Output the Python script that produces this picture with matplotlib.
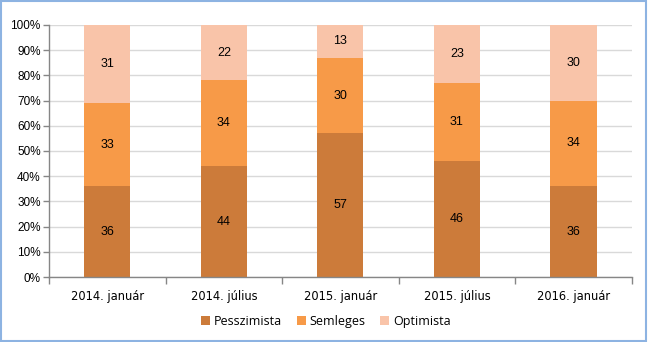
import numpy as np
import matplotlib
matplotlib.use("Agg")
import matplotlib.pyplot as plt
from matplotlib.patches import Rectangle

categories = ["2014. január", "2014. július", "2015. január", "2015. július", "2016. január"]
pesszimista = [36, 44, 57, 46, 36]
semleges = [33, 34, 30, 31, 34]
optimista = [31, 22, 13, 23, 30]

series = [("Pesszimista", pesszimista, "#CC7B3A"),
          ("Semleges", semleges, "#F79A48"),
          ("Optimista", optimista, "#F9C4A9")]

fig = plt.figure(figsize=(6.48, 3.42), dpi=100)
ax = fig.add_axes([0.0756, 0.190, 0.8994, 0.737])

x = np.arange(len(categories))
bottom = np.zeros(len(categories))
for name, vals, color in series:
    vals = np.array(vals, dtype=float)
    ax.bar(x, vals, 0.395, bottom=bottom, color=color, label=name, zorder=2)
    for xi, b, v in zip(x, bottom, vals):
        ax.text(xi, b + v / 2, f"{int(v)}", ha="center", va="center",
                fontsize=9, family="Liberation Sans", color="#000000", zorder=3)
    bottom += vals

ax.set_xlim(-0.5, len(categories) - 0.5)
ax.set_ylim(0, 100)
ax.set_yticks(np.arange(0, 101, 10))
ax.set_yticklabels([f"{v}%" for v in range(0, 101, 10)], family="Liberation Sans", fontsize=8.5)
ax.yaxis.grid(True, color="#D9D9D9", linewidth=1, zorder=0)
ax.set_axisbelow(True)

ax.set_xticks(x)
ax.set_xticklabels(categories, family="DejaVu Sans", fontsize=8.3)
ax.tick_params(axis="x", length=0, pad=9)
ax.set_xticks(np.arange(-0.5, len(categories)), minor=True)
ax.tick_params(axis="x", which="minor", length=5, color="#868686", width=1)
ax.tick_params(axis="y", length=4, color="#868686", width=1, pad=2)

for s in ["top", "right"]:
    ax.spines[s].set_visible(False)
for s in ["left", "bottom"]:
    ax.spines[s].set_color("#868686")
    ax.spines[s].set_linewidth(1)

leg = ax.legend(loc="center", bbox_to_anchor=(0.475, -0.175), ncol=3, frameon=False,
                prop={"family": "Open Sans", "size": 9}, handlelength=0.7, handleheight=0.7,
                handletextpad=0.3, columnspacing=1.2)

fig.patches.append(Rectangle((0.002, 0.003), 0.995, 0.993, transform=fig.transFigure,
                             fill=False, edgecolor="#8DB3E2", linewidth=1.5))

fig.savefig("out.png", dpi=100)
